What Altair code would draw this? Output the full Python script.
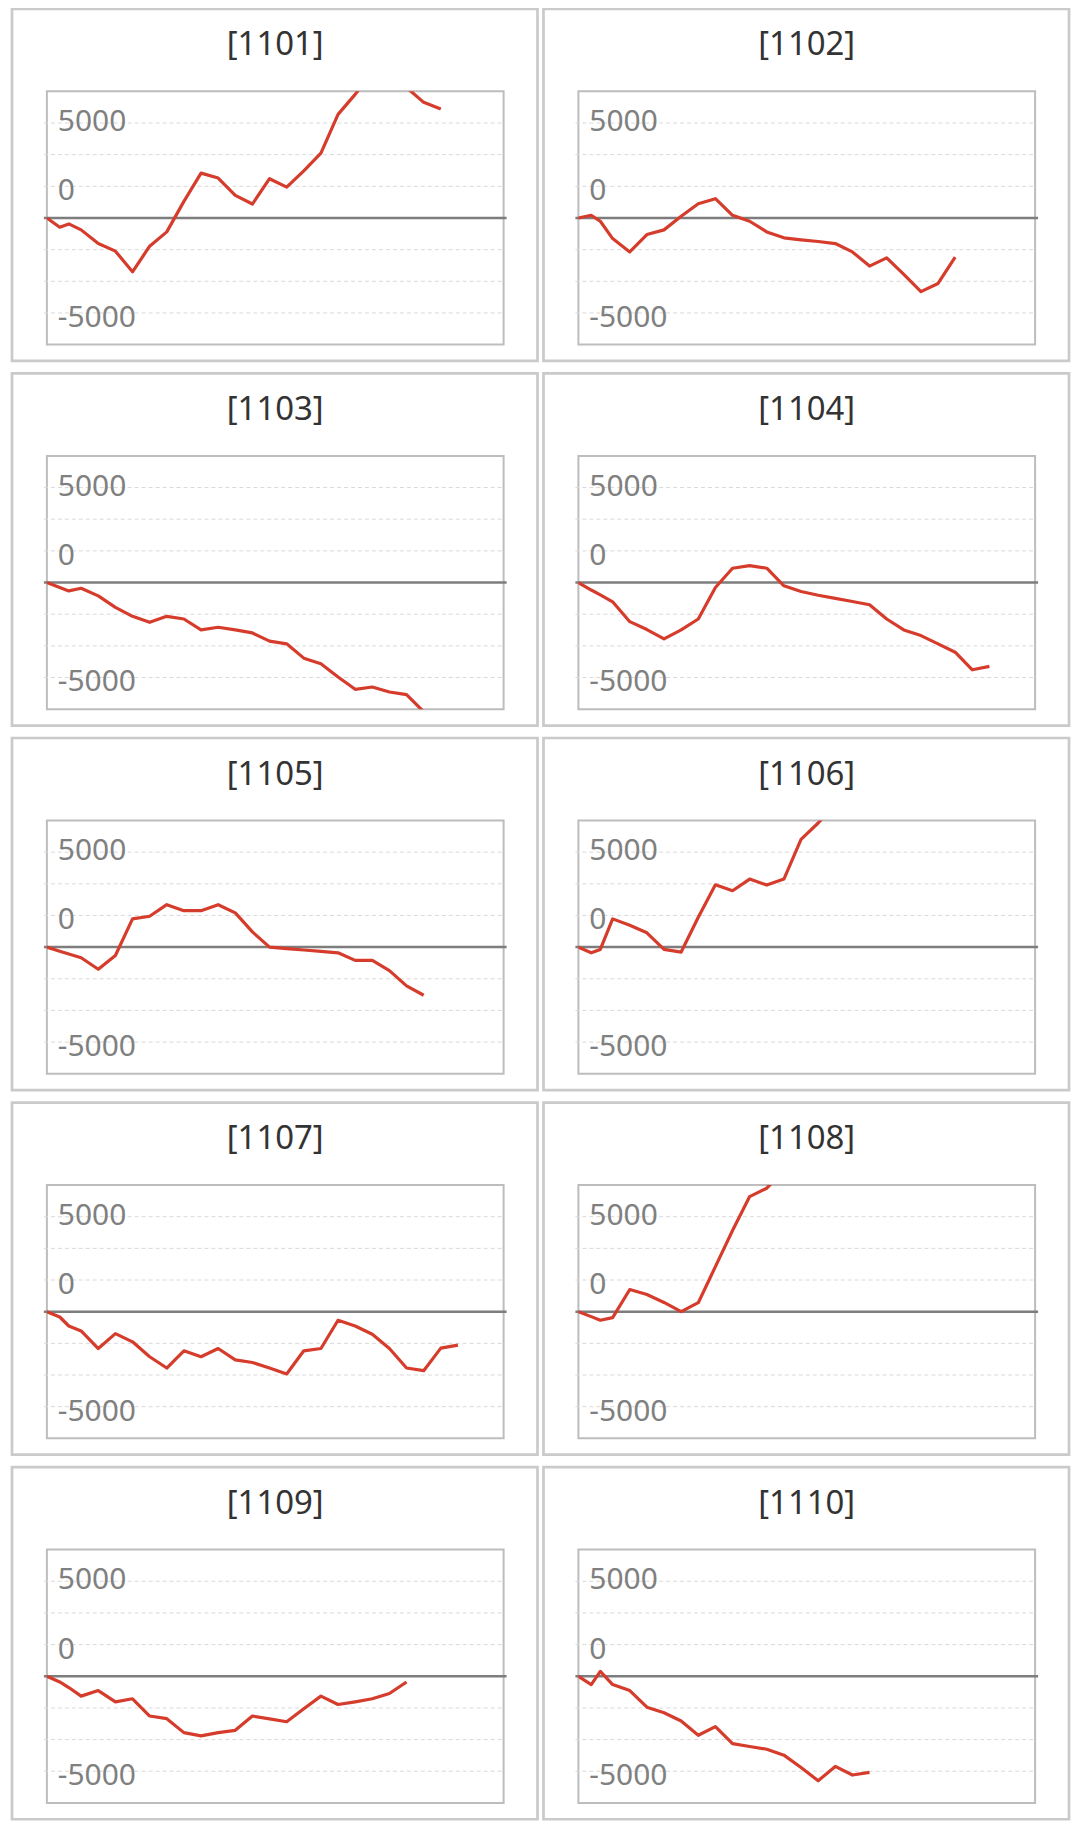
import altair as alt
import pandas as pd

NAMES = ["[1101]", "[1102]", "[1103]", "[1104]", "[1105]",
         "[1106]", "[1107]", "[1108]", "[1109]", "[1110]"]

X_VALUES = [0, 225, 384, 600, 900, 1200, 1500, 1800, 2100, 2400, 2700, 3000,
            3300, 3600, 3900, 4200, 4500, 4800, 5100, 5400, 5700, 6000, 6300,
            6600, 6900, 7200, 7500]

S1101 = [0, -730, -470, -940, -2020, -2620, -4250, -2230, -1100, 1310, 3540,
         3150, 1780, 1100, 3100, 2440, 3720, 5120, 8180, 9760, 11500, 11300,
         10300, 9130, 8600]
S1102 = [0, 210, -260, -1630, -2680, -1310, -940, 130, 1130, 1520, 210, -260,
         -1100, -1570, -1730, -1860, -2020, -2680, -3800, -3150, -4460, -5820,
         -5170, -3100]
S1103 = [0, -390, -660, -450, -1050, -1960, -2670, -3140, -2670, -2880, -3740,
         -3530, -3740, -3980, -4630, -4840, -5970, -6410, -7460, -8430, -8250,
         -8640, -8850, -10200]
S1104 = [0, -590, -970, -1520, -3090, -3710, -4450, -3740, -2880, -390, 1130,
         1340, 1130, -260, -710, -1000, -1250, -1500, -1750, -2880, -3740,
         -4190, -4840, -5500, -6890, -6620]
S1105 = [0, -330, -550, -840, -1750, -660, 2230, 2440, 3350, 2880, 2880, 3350,
         2700, 1200, 0, -120, -230, -330, -450, -1050, -1050, -1860, -3060,
         -3800]
S1106 = [0, -450, -180, 2230, 1720, 1130, -180, -390, 2360, 4920, 4450, 5370,
         4900, 5370, 8510, 9800, 11300]
S1107 = [0, -420, -1130, -1520, -2910, -1730, -2380, -3560, -4450, -3090,
         -3560, -2910, -3800, -4010, -4450, -4920, -3090, -2910, -680, -1130,
         -1780, -2910, -4450, -4660, -2880, -2640]
S1108 = [0, -390, -680, -470, 1750, 1360, 730, 0, 710, 3560, 6410, 9090, 9750,
         11200]
S1109 = [0, -450, -890, -1570, -1130, -2020, -1780, -3140, -3350, -4450, -4710,
         -4450, -4270, -3140, -3360, -3590, -2570, -1570, -2230, -2020, -1780,
         -1360, -450]
S1110 = [0, -660, 390, -660, -1130, -2440, -2880, -3530, -4660, -3980, -5320,
         -5550, -5760, -6230, -7200, -8250, -7120, -7800, -7590]

SERIES = [S1101, S1102, S1103, S1104, S1105, S1106, S1107, S1108, S1109, S1110]

Y_TICK_VALUES = [7500, 2500, -7500]
Y_TICK_LABELS = ["5000", "0", "-5000"]
GRID_VALUES = [-7500, -5000, -2500, 2500, 5000, 7500]
X_DOMAIN = [0, 8000]
Y_DOMAIN = [-10000, 10000]

W, H = 458, 254
FONT = "Noto Sans"
RED = "#d63c2c"


def panel(name, values):
    df = pd.DataFrame({"x": X_VALUES[:len(values)], "y": values})
    xs = alt.Scale(domain=X_DOMAIN, nice=False, zero=False)
    ys = alt.Scale(domain=Y_DOMAIN, nice=False, zero=False)

    frame = alt.Chart(pd.DataFrame({"k": [0]})).mark_rect(
        filled=False, fill=None, stroke="#cacaca", strokeWidth=2.7
    ).encode(
        x=alt.value(-35), x2=alt.value(W + 34),
        y=alt.value(-82.7), y2=alt.value(H + 16.4),
    )

    grid = alt.Chart(pd.DataFrame({"g": GRID_VALUES})).mark_rule(
        color="#d9d9d9", strokeWidth=1, strokeDash=[4, 3]
    ).encode(
        y=alt.Y("g:Q", scale=ys, axis=None),
        x=alt.value(-3), x2=alt.value(W),
    )

    labels_df = pd.DataFrame({"v": Y_TICK_VALUES, "t": Y_TICK_LABELS})
    label_base = alt.Chart(labels_df).encode(
        y=alt.Y("v:Q", scale=ys, axis=None),
        x=alt.value(11),
        text="t:N",
    )
    label_top = label_base.transform_filter(alt.datum.v > 5000).mark_text(
        font=FONT, fontSize=30, color="#808080", align="left",
        baseline="middle", dy=-1,
    )
    label_rest = label_base.transform_filter(alt.datum.v <= 5000).mark_text(
        font=FONT, fontSize=30, color="#808080", align="left",
        baseline="middle", dy=5,
    )

    zero = alt.Chart(pd.DataFrame({"z": [0]})).mark_rule(
        color="#7d7d7d", strokeWidth=2.5
    ).encode(
        y=alt.Y("z:Q", scale=ys, axis=None),
        x=alt.value(-3), x2=alt.value(W + 3),
    )

    line = alt.Chart(df).mark_line(
        color=RED, strokeWidth=3.2, clip=True, strokeJoin="round"
    ).encode(
        x=alt.X("x:Q", scale=xs, axis=None),
        y=alt.Y("y:Q", scale=ys, axis=None),
        order="x:Q",
    )

    title = alt.Chart(pd.DataFrame({"t": [name]})).mark_text(
        font=FONT, fontSize=33, color="#333333", align="center",
        baseline="middle"
    ).encode(
        text="t:N", x=alt.value(W / 2), y=alt.value(-46),
    )

    return alt.layer(frame, grid, label_top, label_rest, zero, line, title).properties(
        width=W, height=H
    )


panels = [panel(n, s) for n, s in zip(NAMES, SERIES)]
rows = [alt.hconcat(panels[i], panels[i + 1], spacing=0) for i in range(0, 10, 2)]

chart = alt.vconcat(*rows, spacing=6.6).properties(
    padding={"left": 1, "top": -5, "right": 0, "bottom": 0},
    background="white",
).configure_view(stroke="#bdbdbd", strokeWidth=2)

chart.save("out.html", embed_options={"renderer": "svg", "actions": False})
